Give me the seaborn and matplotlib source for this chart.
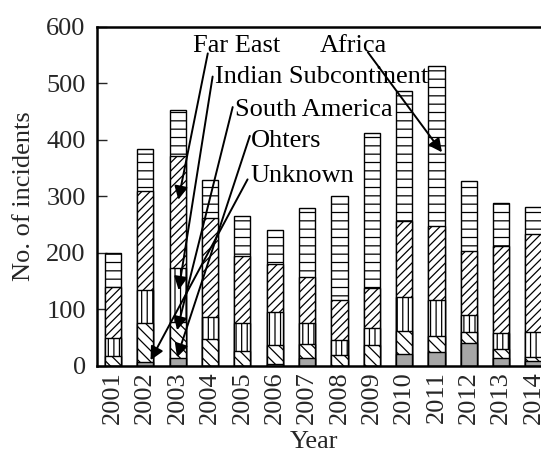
import matplotlib
matplotlib.use("Agg")
import matplotlib.pyplot as plt
import seaborn as sns
import numpy as np
import pandas as pd

years = ["2001", "2002", "2003", "2004", "2005", "2006", "2007",
         "2008", "2009", "2010", "2011", "2012", "2013", "2014"]
others = [0, 7, 13, 0, 0, 4, 14, 0, 0, 21, 25, 40, 13, 9]
south_america = [18, 68, 64, 47, 26, 33, 25, 20, 37, 40, 27, 19, 17, 6]
indian_sub = [32, 60, 96, 39, 50, 58, 36, 26, 30, 61, 64, 31, 28, 44]
far_east = [90, 174, 198, 175, 118, 86, 82, 71, 71, 134, 132, 114, 154, 174]
africa = [60, 75, 81, 68, 71, 60, 123, 184, 274, 231, 282, 124, 76, 49]

sns.set_style("white")
plt.rcParams["font.family"] = ["Liberation Serif", "DejaVu Serif"]
plt.rcParams["hatch.color"] = "black"
plt.rcParams["hatch.linewidth"] = 0.9

FS = 19

fig = plt.figure(figsize=(5.41, 4.55), dpi=100)
ax = fig.add_axes([0.179, 0.196, 0.837, 0.745])

layers = [("Others", others), ("South America", south_america),
          ("Indian Subcontinent", indian_sub), ("Far East", far_east),
          ("Africa", africa)]
styles = {
    "Others": dict(color="#a6a6a6", hatch=None),
    "South America": dict(color="white", hatch="\\\\\\"),
    "Indian Subcontinent": dict(color="white", hatch="|||"),
    "Far East": dict(color="white", hatch="////"),
    "Africa": dict(color="white", hatch="--"),
}
cum = np.cumsum(np.array([v for _, v in layers]), axis=0)

# draw from tallest cumulative layer down so lower layers cover upper ones
for i in range(len(layers) - 1, -1, -1):
    name = layers[i][0]
    df = pd.DataFrame({"Year": years, "val": cum[i]})
    st = styles[name]
    sns.barplot(data=df, x="Year", y="val", color=st["color"], saturation=1,
                width=0.5, edgecolor="black", linewidth=1.0,
                hatch=st["hatch"], errorbar=None, ax=ax)

ax.set_xlim(-0.5, 13.5)
ax.set_ylim(0, 600)
ax.set_yticks(range(0, 601, 100))
ax.set_xlabel("Year", fontsize=FS)
ax.xaxis.set_label_coords(0.48, -0.192)
ax.set_ylabel("No. of incidents", fontsize=FS, labelpad=8)
ax.tick_params(axis="y", direction="in", length=7, width=1, labelsize=FS, pad=8, left=True)
ax.tick_params(axis="x", length=0, labelsize=FS, pad=4, rotation=90)
for s in ["left", "bottom", "top", "right"]:
    ax.spines[s].set_visible(True)
    ax.spines[s].set_color("black")
    ax.spines[s].set_linewidth(1.8)

# annotations
labels = [
    ("Far East", (2.46, 556), (2.93, 553), (2.02, 294)),
    ("Indian Subcontinent", (3.14, 500), (3.08, 512), (2.03, 134)),
    ("South America", (3.76, 442), (3.70, 458), (1.98, 63)),
    ("Ohters", (4.26, 387), (4.23, 407), (1.98, 15)),
    ("Unknown", (4.26, 325), (4.16, 330), (1.16, 10)),
    ("Africa", (6.39, 556), (7.88, 555), (10.17, 378)),
]
for txt, tpos, tail, tip in labels:
    ax.text(tpos[0], tpos[1], txt, fontsize=FS, ha="left", va="baseline",
            color="black", zorder=6)
    ax.annotate("", xy=tip, xytext=tail,
                arrowprops=dict(arrowstyle="-|>", color="black", lw=1.4,
                                mutation_scale=20, shrinkA=0, shrinkB=0),
                zorder=7)

fig.savefig("out.png", dpi=100)
